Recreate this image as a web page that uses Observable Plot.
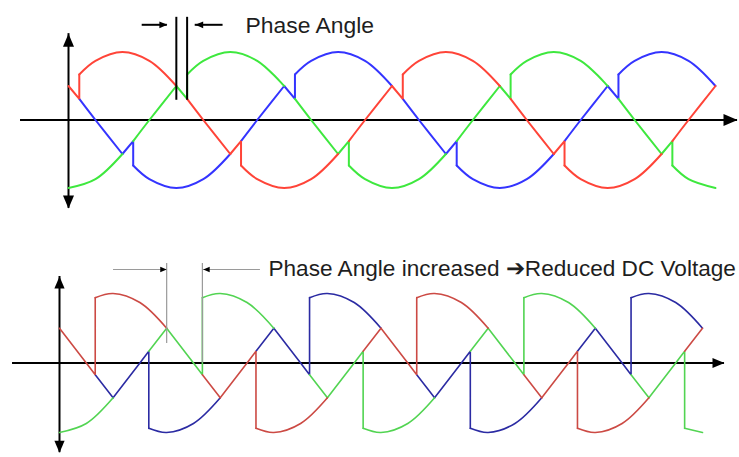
<!DOCTYPE html>
<html><head><meta charset="utf-8">
<script src="https://cdn.jsdelivr.net/npm/d3@7"></script>
<script src="https://cdn.jsdelivr.net/npm/@observablehq/plot@0.6"></script>
<style>
body{margin:0;background:#fff;}
#chart{width:739px;height:457px;overflow:hidden;}
#chart svg{display:block;}
</style>
</head><body><div id="chart"></div>
<script>
// ---------- DATA (x = electrical angle in degrees, y = per-unit phase voltage) ----------
// Top panel: small firing delay (phase angle ~12°)
const topRedArcs = [
  [[42,.67],[60,.87],[90,1],[120,.87],[150,.5]],
  [[162,.31],[180,0],[210,-.5]],
  [[222,-.67],[240,-.87],[270,-1],[300,-.87],[330,-.5]],
  [[342,-.31],[360,0],[390,.5]],
  [[402,.67],[420,.87],[450,1],[480,.87],[510,.5]],
  [[522,.31],[540,0],[570,-.5]],
  [[582,-.67],[600,-.87],[630,-1],[660,-.87],[690,-.5]],
  [[702,-.31],[720,0],[750,.5]]
];
const topRedSteps = [
  [[30,.5],[42,.31],[42,.67]],
  [[210,-.5],[222,-.31],[222,-.67]],
  [[390,.5],[402,.31],[402,.67]],
  [[570,-.5],[582,-.31],[582,-.67]]
];
const topGreenArcs = [
  [[30,-1],[60,-.87],[90,-.5]],
  [[102,-.31],[120,0],[150,.5]],
  [[162,.67],[180,.87],[210,1],[240,.87],[270,.5]],
  [[282,.31],[300,0],[330,-.5]],
  [[342,-.67],[360,-.87],[390,-1],[420,-.87],[450,-.5]],
  [[462,-.31],[480,0],[510,.5]],
  [[522,.67],[540,.87],[570,1],[600,.87],[630,.5]],
  [[642,.31],[660,0],[690,-.5]],
  [[702,-.67],[720,-.87],[750,-1]]
];
const topGreenSteps = [
  [[150,.5],[162,.31],[162,.67]],
  [[330,-.5],[342,-.31],[342,-.67]],
  [[510,.5],[522,.31],[522,.67]],
  [[690,-.5],[702,-.31],[702,-.67]]
];
const topBlueArcs = [
  [[42,.31],[60,0],[90,-.5]],
  [[102,-.67],[120,-.87],[150,-1],[180,-.87],[210,-.5]],
  [[222,-.31],[240,0],[270,.5]],
  [[282,.67],[300,.87],[330,1],[360,.87],[390,.5]],
  [[402,.31],[420,0],[450,-.5]],
  [[462,-.67],[480,-.87],[510,-1],[540,-.87],[570,-.5]],
  [[582,-.31],[600,0],[630,.5]],
  [[642,.67],[660,.87],[690,1],[720,.87],[750,.5]]
];
const topBlueSteps = [
  [[90,-.5],[102,-.31],[102,-.67]],
  [[270,.5],[282,.31],[282,.67]],
  [[450,-.5],[462,-.31],[462,-.67]],
  [[630,.5],[642,.31],[642,.67]]
];

// Bottom panel: larger firing delay (phase angle ~40°)
const botRedArcs = [
  [[70,.94],[90,1],[120,.87],[150,.5]],
  [[190,-.17],[210,-.5]],
  [[250,-.94],[270,-1],[300,-.87],[330,-.5]],
  [[370,.17],[390,.5]],
  [[430,.94],[450,1],[480,.87],[510,.5]],
  [[550,-.17],[570,-.5]],
  [[610,-.94],[630,-1],[660,-.87],[690,-.5]],
  [[730,.17],[750,.5]]
];
const botRedSteps = [
  [[30,.5],[60,0],[70,-.17],[70,.94]],
  [[210,-.5],[240,0],[250,.17],[250,-.94]],
  [[390,.5],[420,0],[430,-.17],[430,.94]],
  [[570,-.5],[600,0],[610,.17],[610,-.94]]
];
const botGreenArcs = [
  [[30,-1],[60,-.87],[90,-.5]],
  [[130,.17],[150,.5]],
  [[190,.94],[210,1],[240,.87],[270,.5]],
  [[310,-.17],[330,-.5]],
  [[370,-.94],[390,-1],[420,-.87],[450,-.5]],
  [[490,.17],[510,.5]],
  [[550,.94],[570,1],[600,.87],[630,.5]],
  [[670,-.17],[690,-.5]],
  [[730,-.94],[750,-1]]
];
const botGreenSteps = [
  [[150,.5],[180,0],[190,-.17],[190,.94]],
  [[330,-.5],[360,0],[370,.17],[370,-.94]],
  [[510,.5],[540,0],[550,-.17],[550,.94]],
  [[690,-.5],[720,0],[730,.17],[730,-.94]]
];
const botBlueArcs = [
  [[70,-.17],[90,-.5]],
  [[130,-.94],[150,-1],[180,-.87],[210,-.5]],
  [[250,.17],[270,.5]],
  [[310,.94],[330,1],[360,.87],[390,.5]],
  [[430,-.17],[450,-.5]],
  [[490,-.94],[510,-1],[540,-.87],[570,-.5]],
  [[610,.17],[630,.5]],
  [[670,.94],[690,1],[720,.87],[750,.5]]
];
const botBlueSteps = [
  [[90,-.5],[120,0],[130,.17],[130,-.94]],
  [[270,.5],[300,0],[310,-.17],[310,.94]],
  [[450,-.5],[480,0],[490,.17],[490,-.94]],
  [[630,.5],[660,0],[670,-.17],[670,.94]]
];

// Axes extents (data units)
const topAxisX = [{x1: -23.4, x2: 774.5, y: 0}];
const topAxisY = [{x: 30, y1: -1.30, y2: 1.27}];
const botAxisX = [{x1: -22.6, x2: 774.6, y: 0}];
const botAxisY = [{x: 30, y1: -1.29, y2: 1.245}];

// Annotations
const topMarkers = [{x: 150, y1: 1.51, y2: 0.29}, {x: 162, y1: 1.51, y2: 0.29}];
const topArrows = [{x1: 112, x2: 140, y: 1.40}, {x1: 202, x2: 171, y: 1.40}];
const topLabel = [{x: 227, y: 1.39, text: "Phase Angle"}];
const botMarkers = [{x: 150, y1: 1.43, y2: 0.28}, {x: 190, y1: 1.43, y2: 0.0}];
const botArrows = [{x1: 90.5, x2: 150, y: 1.345}, {x1: 255, x2: 191, y: 1.345}];
const botLabel = [{x: 264, y: 1.36, text: "Phase Angle increased \u2794Reduced DC Voltage"}];

// ---------- RENDER ----------
const rows = (pieces, tag) => pieces.flatMap((p, i) => p.map(([x, y]) => ({x, y, id: tag + i})));

// filled triangle arrowhead with tip at the anchor point
const tri = (ux, uy) => ({draw(ctx, size) {
  const r = Math.sqrt(size / Math.PI);
  const L = 2 * r, W = 0.85 * r;
  const bx = -L * ux, by = -L * uy, px = -uy * W, py = ux * W;
  ctx.moveTo(0, 0); ctx.lineTo(bx + px, by + py); ctx.lineTo(bx - px, by - py); ctx.closePath();
}});
const RIGHT = tri(1, 0), LEFT = tri(-1, 0), UP = tri(0, -1), DOWN = tri(0, 1);

const FONT = "'Liberation Sans', Arial, Helvetica, sans-serif";

function waveMarks(sets, width) {
  const marks = [];
  for (const [arcs, steps, color, tag] of sets) {
    marks.push(Plot.line(rows(steps, tag + "s"), {x: "x", y: "y", z: "id", stroke: color, strokeWidth: width, curve: "linear", strokeLinejoin: "miter"}));
    marks.push(Plot.line(rows(arcs, tag + "a"), {x: "x", y: "y", z: "id", stroke: color, strokeWidth: width, curve: "catmull-rom"}));
  }
  return marks;
}

function axisMarks(ax, ay, w, hr, vr) {
  return [
    Plot.ruleY(ax, {y: "y", x1: "x1", x2: "x2", stroke: "#000", strokeWidth: w}),
    Plot.ruleX(ay, {x: "x", y1: "y1", y2: "y2", stroke: "#000", strokeWidth: w}),
    Plot.dot(ax, {x: "x2", y: "y", symbol: RIGHT, r: hr, fill: "#000", stroke: "none"}),
    Plot.dot(ay, {x: "x", y: "y2", symbol: UP, r: vr, fill: "#000", stroke: "none"}),
    Plot.dot(ay, {x: "x", y: "y1", symbol: DOWN, r: vr, fill: "#000", stroke: "none"})
  ];
}

function annotationMarks(markers, arrows, label, stroke, w, headR, fontSize) {
  return [
    Plot.ruleX(markers, {x: "x", y1: "y1", y2: "y2", stroke, strokeWidth: w}),
    Plot.ruleY(arrows, {y: "y", x1: "x1", x2: "x2", stroke, strokeWidth: w}),
    Plot.dot(arrows.filter(d => d.x2 > d.x1), {x: "x2", y: "y", symbol: RIGHT, r: headR, fill: "#000", stroke: "none"}),
    Plot.dot(arrows.filter(d => d.x2 < d.x1), {x: "x2", y: "y", symbol: LEFT, r: headR, fill: "#000", stroke: "none"}),
    Plot.text(label, {x: "x", y: "y", text: "text", textAnchor: "start", lineAnchor: "middle", fontSize, fontFamily: FONT, fill: "#1e1e1e"})
  ];
}

try {
  const top = Plot.plot({
    width: 739, height: 228, margin: 0,
    x: {domain: [30, 750], range: [68, 715], axis: null},
    y: {domain: [-1, 1], range: [187.5, 51.5], axis: null},
    style: {background: "#fff", overflow: "visible"},
    marks: [
      ...axisMarks(topAxisX, topAxisY, 2, 7, 6.5),
      ...waveMarks([
        [topBlueArcs, topBlueSteps, "#3434ff", "b"],
        [topGreenArcs, topGreenSteps, "#3ee83e", "g"],
        [topRedArcs, topRedSteps, "#ff4438", "r"]
      ], 2),
      ...annotationMarks(topMarkers, topArrows, topLabel, "#000", 2, 4, 22.9)
    ]
  });
  const bot = Plot.plot({
    width: 739, height: 229, margin: 0,
    x: {domain: [30, 750], range: [59, 702], axis: null},
    y: {domain: [-1, 1], range: [204, 65], axis: null},
    style: {background: "#fff", overflow: "visible"},
    marks: [
      ...axisMarks(botAxisX, botAxisY, 2, 6, 6),
      ...waveMarks([
        [botBlueArcs, botBlueSteps, "#2b2ba3", "b"],
        [botGreenArcs, botGreenSteps, "#52d452", "g"],
        [botRedArcs, botRedSteps, "#cc4a44", "r"]
      ], 1.6),
      ...annotationMarks(botMarkers, botArrows, botLabel, "#9a9a9a", 1.2, 3.2, 22.6)
    ]
  });
  const el = document.getElementById("chart");
  el.append(top, bot);
} catch (e) {
  document.body.insertAdjacentHTML("beforeend", "<pre>" + e.stack + "</pre>");
  console.error(e);
}
</script>
</body></html>
